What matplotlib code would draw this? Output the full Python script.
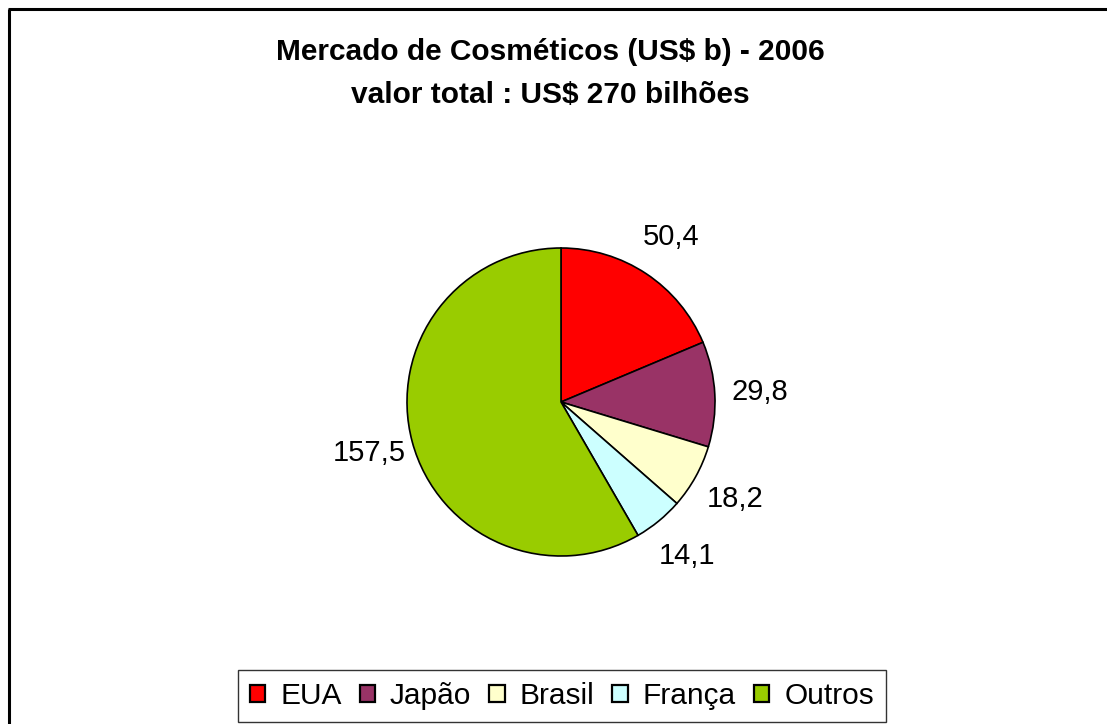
import matplotlib
matplotlib.use("Agg")
import matplotlib.pyplot as plt
from matplotlib.lines import Line2D
import numpy as np

plt.rcParams['font.family'] = ['Liberation Sans', 'DejaVu Sans']

categories = ["EUA", "Japão", "Brasil", "França", "Outros"]
values = [50.4, 29.8, 18.2, 14.1, 157.5]
value_labels = ["50,4", "29,8", "18,2", "14,1", "157,5"]
colors = ["#FF0000", "#993366", "#FFFFCC", "#CCFFFF", "#99CC00"]
title_line1 = "Mercado de Cosméticos (US$ b) - 2006"
title_line2 = "valor total : US$ 270 bilhões"

W, H = 1107, 724
fig = plt.figure(figsize=(W / 100, H / 100), dpi=100)
fig.patch.set_facecolor("white")

cx, cy, R = 561, 402, 154
ax = fig.add_axes([(cx - R) / W, (H - cy - R) / H, 2 * R / W, 2 * R / H])
wedges, texts = ax.pie(values, colors=colors, startangle=90, counterclock=False,
                       labels=value_labels, labeldistance=1.29,
                       wedgeprops=dict(edgecolor="black", linewidth=1.2),
                       textprops=dict(fontsize=21, color="black"))
for t in texts:
    t.set_ha("center")
    t.set_va("center")
ax.set_xlim(-1, 1)
ax.set_ylim(-1, 1)
ax.set_aspect("equal")
ax.axis("off")

fig.text(550 / W, 1 - 60 / H, title_line1, ha="center", va="baseline",
         fontsize=21.5, fontweight="bold")
fig.text(550 / W, 1 - 103 / H, title_line2, ha="center", va="baseline",
         fontsize=21.5, fontweight="bold")

# frame lines (left and top)
fig.add_artist(Line2D([8.5 / W, 8.5 / W], [0, 1 - 8.5 / H], color="black",
                      linewidth=2.2, transform=fig.transFigure, solid_capstyle="butt"))
fig.add_artist(Line2D([7.5 / W, 1], [1 - 8.5 / H, 1 - 8.5 / H], color="black",
                      linewidth=2.2, transform=fig.transFigure, solid_capstyle="butt"))

leg = fig.legend(wedges, categories, loc="lower center", ncol=5,
                 bbox_to_anchor=(562 / W, 2 / H), fontsize=21.5,
                 frameon=True, fancybox=False, handlelength=0.52, handleheight=0.52,
                 handletextpad=0.5, columnspacing=0.6, borderpad=0.4,
                 borderaxespad=0)
leg.get_frame().set_edgecolor("black")
leg.get_frame().set_linewidth(1.0)
for h in leg.legend_handles:
    h.set_linewidth(1.6)

fig.savefig("out.png", dpi=100, facecolor="white")
